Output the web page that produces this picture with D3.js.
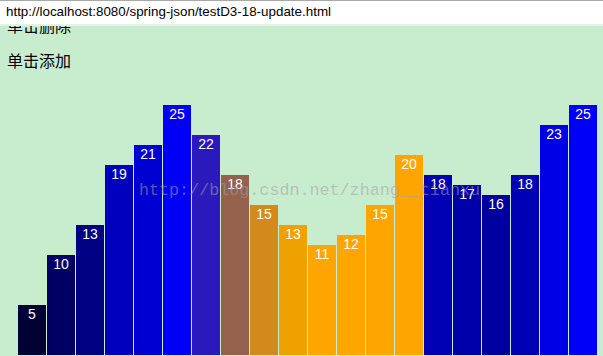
<!DOCTYPE html>
<html>
<head>
<meta charset="utf-8">
<script src="https://cdn.jsdelivr.net/npm/d3@7/dist/d3.min.js"></script>
<style>
  html, body { margin: 0; padding: 0; background: #c8ecce; overflow: hidden; }
  svg { display: block; }
</style>
</head>
<body>
<svg id="chart" width="603" height="356"></svg>
<script>
// ---- data ----
const urlText = "http://localhost:8080/spring-json/testD3-18-update.html";
const buttonLabels = ["单击删除", "单击添加"];
const watermark = "http://blog.csdn.net/zhang__tianxu";
const values = [5, 10, 13, 19, 21, 25, 22, 18, 15, 13, 11, 12, 15, 20, 18, 17, 16, 18, 23, 25];
// bars caught mid-transition (mouseover orange -> blue)
const transitionFills = { 6: "#2a1abe", 7: "#94624c", 8: "#d48a1a", 9: "#f0a102", 10: "#ffa500", 11: "#ffa500", 12: "#ffa500", 13: "#ffa500" };

const svg = d3.select("#chart");

// button-like texts
svg.append("text").attr("x", 7).attr("y", 32)
  .attr("font-family", "Noto Sans CJK SC").attr("font-size", 16).attr("fill", "#000")
  .text(buttonLabels[0]);
svg.append("text").attr("x", 7).attr("y", 67)
  .attr("font-family", "Noto Sans CJK SC").attr("font-size", 16).attr("fill", "#000")
  .text(buttonLabels[1]);

// address bar
svg.append("rect").attr("x", 0).attr("y", 0).attr("width", 603).attr("height", 24).attr("fill", "#fff");
svg.append("rect").attr("x", 0).attr("y", 0).attr("width", 603).attr("height", 1).attr("fill", "#a8a8a8");
svg.append("rect").attr("x", 0).attr("y", 24).attr("width", 603).attr("height", 2).attr("fill", "#e4f2e6");
svg.append("text").attr("x", 6).attr("y", 16)
  .attr("font-family", "Liberation Sans, Arial, sans-serif").attr("font-size", 13)
  .attr("textLength", 325).attr("lengthAdjust", "spacingAndGlyphs")
  .attr("fill", "#000").text(urlText);

// scales
const x = d3.scaleBand().domain(d3.range(values.length)).range([18, 597]).paddingInner(1 / 29).paddingOuter(0);
const y = d3.scaleLinear().domain([0, 25]).range([355, 105]);
const colorOf = (d, i) => transitionFills[i] || d3.rgb(0, 0, d * 10).toString();

svg.selectAll("rect.bar").data(values).enter().append("rect")
  .attr("class", "bar")
  .attr("x", (d, i) => x(i))
  .attr("y", d => y(d))
  .attr("width", x.bandwidth())
  .attr("height", d => y(0) - y(d))
  .attr("fill", colorOf);

svg.selectAll("text.lbl").data(values).enter().append("text")
  .attr("class", "lbl")
  .attr("x", (d, i) => x(i) + x.bandwidth() / 2)
  .attr("y", d => y(d) + 14)
  .attr("text-anchor", "middle")
  .attr("font-family", "Liberation Sans, Arial, sans-serif")
  .attr("font-size", 14)
  .attr("fill", "#fff")
  .text(d => d);

// watermark
svg.append("text").attr("x", 139).attr("y", 195)
  .attr("font-family", "Liberation Mono, monospace").attr("font-size", 16.7)
  .attr("textLength", 341).attr("lengthAdjust", "spacingAndGlyphs")
  .attr("fill", "rgba(160,160,160,0.55)").text(watermark);
</script>
</body>
</html>
